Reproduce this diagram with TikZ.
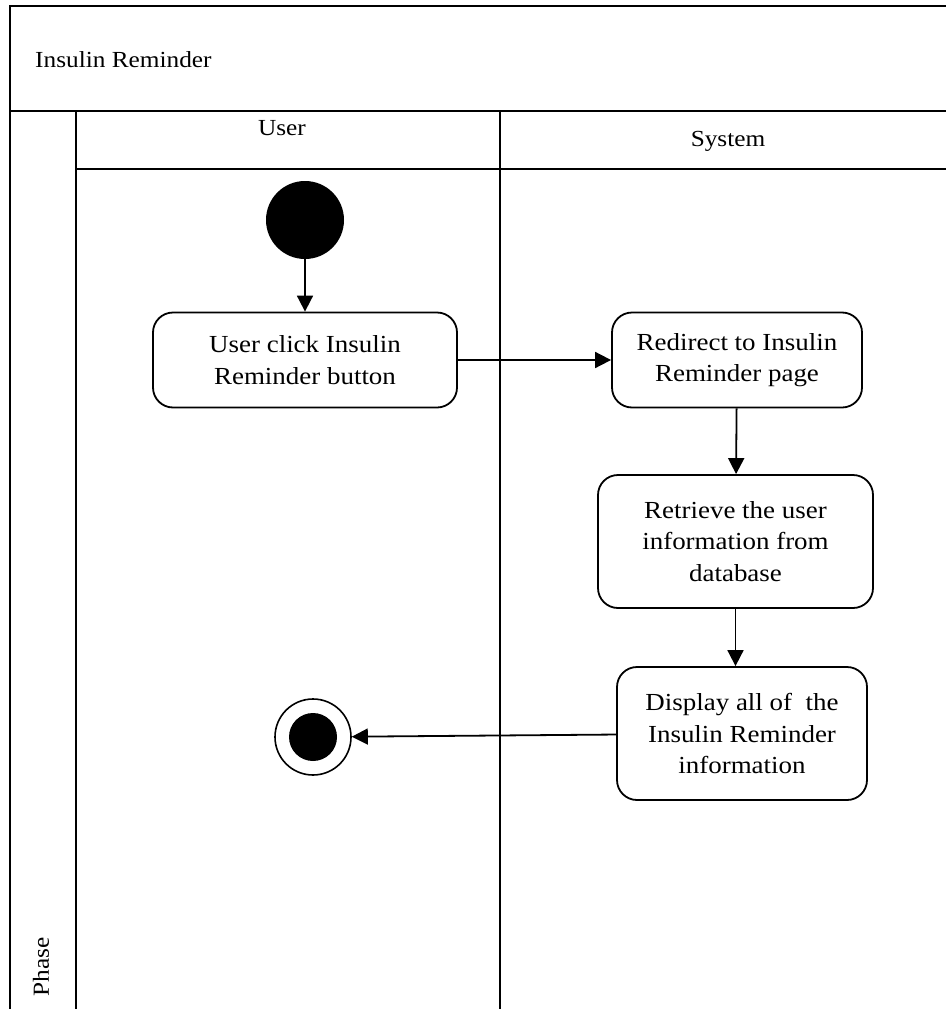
\documentclass[tikz,border=0pt]{standalone}
\usepackage{fontspec}
\setmainfont{Liberation Serif}[FakeStretch=1.1]
\usetikzlibrary{positioning,arrows.meta}
\tikzset{
	flow/.style={-{Triangle[length=16pt,width=16pt]}, line width=1.8pt}, % control flow between activities
	activity/.style={rectangle, rounded corners=20pt, draw, line width=1.8pt, align=center, inner sep=0pt, font=\fontsize{24.5}{31.5}\selectfont},
	lane/.style={line width=1.8pt},
	label text/.style={font=\fontsize{23}{28}\selectfont, inner sep=0pt}
}

\begin{document}
\begin{tikzpicture}[x=1pt,y=-1pt]
            \useasboundingbox (0,0) rectangle (945,1009);
            % swimlane frame
            \draw[lane] (10,1012) -- (10,6) -- (950,6);
            \draw[lane] (10,111) -- (950,111);
            \draw[lane] (76,111) -- (76,1012);
            \draw[lane] (76,169) -- (950,169);
            \draw[lane] (500,111) -- (500,1012);
            \node[label text, anchor=west] (title) at (35,60) {Insulin Reminder};
            \node[label text] (user) at (282,128) {User};
            \node[label text] (system) at (728,141) {System};
            \node[label text, rotate=90] (phase) at (41,967) {Phase};
            % activities
            \node[circle, fill, minimum size=78pt, inner sep=0pt] (start) at (305,220) {};
            \node[activity, minimum width=304pt, minimum height=95pt] (click) at (305,360) {User click Insulin\\Reminder button};
            \node[activity, minimum width=250pt, minimum height=95pt] (redirect) at (737,360) {Redirect to Insulin\\Reminder page};
            \node[activity, minimum width=275pt, minimum height=133pt] (retrieve) at (735.5,541.5) {Retrieve the user\\information from\\database};
            \node[activity, minimum width=250pt, minimum height=133pt] (display) at (742,733.5) {Display all of~ the\\Insulin Reminder\\information};
            \node[circle, draw, line width=1.6pt, minimum size=76pt, inner sep=0pt] (final) at (313,737) {};
            \fill (final.center) circle[radius=24pt];
            \draw[flow] (start) -- (click);
            \draw[flow] (click) -- (redirect);
            \draw[flow] (redirect) -- (retrieve);
            \draw[flow] (retrieve.south) -- (retrieve.south |- display.north);
            \draw[flow] (display) -- (final);
\end{tikzpicture}
\end{document}
